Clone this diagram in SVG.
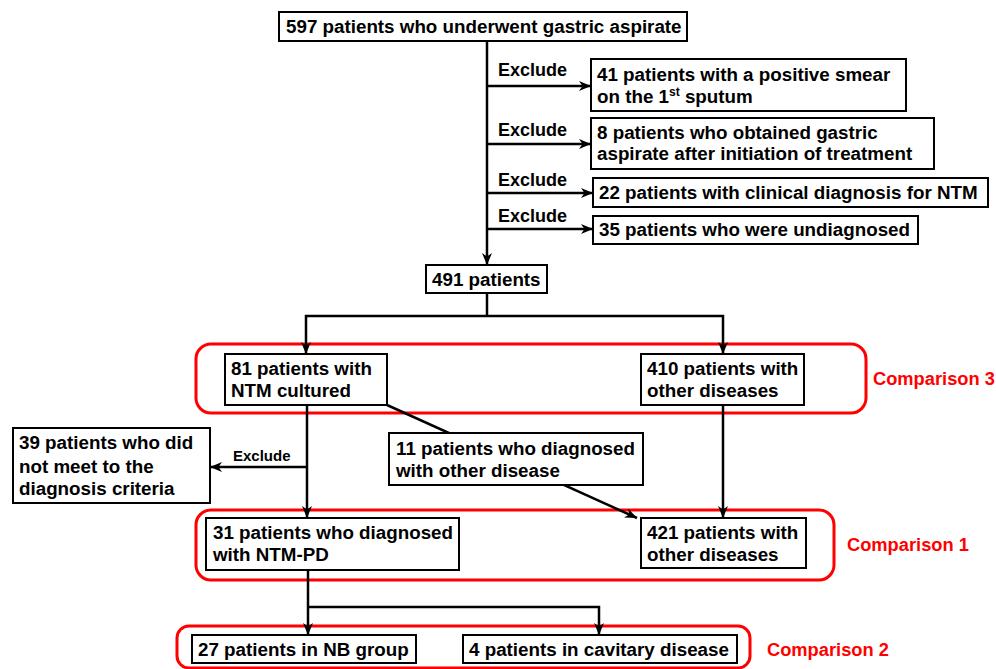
<svg xmlns="http://www.w3.org/2000/svg" width="996" height="669" viewBox="0 0 996 669">
<style>
.box{fill:#fff;stroke:#000;stroke-width:2}
.t{font-family:"Liberation Sans",Arial,sans-serif;font-weight:bold;font-size:18.8px;fill:#000}
.e{font-family:"Liberation Sans",Arial,sans-serif;font-weight:bold;font-size:18px;fill:#000}
.s{font-family:"Liberation Sans",Arial,sans-serif;font-weight:bold;font-size:15px;fill:#000}
.red{fill:none;stroke:#ff0000;stroke-width:3}
.rt{font-family:"Liberation Sans",Arial,sans-serif;font-weight:bold;font-size:18.3px;fill:#ff0000}
.ln{fill:none;stroke:#000;stroke-width:2.5}
.ar{marker-end:url(#ah)}
</style>
<defs>
<marker id="ah" viewBox="0 0 12 10" refX="12" refY="5" markerWidth="12" markerHeight="10" markerUnits="userSpaceOnUse" orient="auto">
<path d="M0,0 L12,5 L0,10 L3.5,5 z" fill="#000"/>
</marker>
</defs>
<rect width="996" height="669" fill="#fff"/>

<g id="groups">
<rect class="red" x="196" y="344" width="670" height="69" rx="15"/>
<rect class="red" x="196" y="510" width="638" height="70" rx="15"/>
<rect class="red" x="177" y="626" width="573" height="42" rx="12"/>
<text class="rt" x="873" y="385">Comparison 3</text>
<text class="rt" x="847" y="551">Comparison 1</text>
<text class="rt" x="767" y="656">Comparison 2</text>
</g>

<g id="connectors">
<line class="ln ar" x1="487" y1="41" x2="487" y2="265"/>
<line class="ln ar" x1="487" y1="86" x2="591" y2="86"/>
<line class="ln ar" x1="487" y1="144" x2="591" y2="144"/>
<line class="ln ar" x1="487" y1="193" x2="593" y2="193"/>
<line class="ln ar" x1="487" y1="229" x2="593" y2="229"/>
<text class="e" x="498" y="76">Exclude</text>
<text class="e" x="498" y="136">Exclude</text>
<text class="e" x="498" y="186">Exclude</text>
<text class="e" x="498" y="222">Exclude</text>
<polyline class="ln" points="487,293 487,316"/>
<polyline class="ln ar" points="487,316 306,316 306,354"/>
<polyline class="ln ar" points="487,316 723,316 723,354"/>
<line class="ln ar" x1="307" y1="405" x2="307" y2="518"/>
<line class="ln ar" x1="307" y1="467" x2="210" y2="467"/>
<text class="s" x="233" y="461">Exclude</text>
<line class="ln ar" x1="387" y1="405" x2="637" y2="518"/>
<line class="ln ar" x1="723" y1="405" x2="723" y2="518"/>
<line class="ln ar" x1="308" y1="570" x2="308" y2="635"/>
<polyline class="ln ar" points="308,607 599,607 599,635"/>
</g>

<g id="n597"><rect class="box" x="279" y="12" width="408" height="29"/><text class="t" x="286" y="33">597 patients who underwent gastric aspirate</text></g>
<g id="n41"><rect class="box" x="591" y="59" width="315" height="52"/><text class="t" x="597" y="81">41 patients with a positive smear</text><text class="t" x="597" y="103">on the 1<tspan font-size="12" dy="-7">st</tspan><tspan dy="7"> sputum</tspan></text></g>
<g id="n8"><rect class="box" x="591" y="118" width="343" height="51"/><text class="t" x="597" y="139">8 patients who obtained gastric</text><text class="t" x="597" y="160">aspirate after initiation of treatment</text></g>
<g id="n22"><rect class="box" x="593" y="178" width="395" height="29"/><text class="t" x="599" y="199">22 patients<tspan dx="5">with clinical diagnosis for NTM</tspan></text></g>
<g id="n35"><rect class="box" x="593" y="216" width="325" height="28"/><text class="t" x="599" y="236">35 patients who were undiagnosed</text></g>
<g id="n491"><rect class="box" x="426" y="265" width="121" height="28"/><text class="t" x="432" y="286">491 patients</text></g>
<g id="n81"><rect class="box" x="225" y="354" width="162" height="51"/><text class="t" x="231" y="375">81 patients with</text><text class="t" x="231" y="397">NTM cultured</text></g>
<g id="n410"><rect class="box" x="641" y="354" width="163" height="51"/><text class="t" x="647" y="375">410 patients with</text><text class="t" x="647" y="397">other diseases</text></g>
<g id="n39"><rect class="box" x="13" y="428" width="197" height="75"/><text class="t" x="19" y="449">39 patients who did</text><text class="t" x="19" y="473">not meet to the</text><text class="t" x="19" y="495">diagnosis criteria</text></g>
<g id="n11"><rect class="box" x="389" y="433" width="254" height="52"/><text class="t" x="396" y="455">11 patients who diagnosed</text><text class="t" x="396" y="477">with other disease</text></g>
<g id="n31"><rect class="box" x="206" y="518" width="253" height="52"/><text class="t" x="213" y="539">31 patients who diagnosed</text><text class="t" x="213" y="561">with NTM-PD</text></g>
<g id="n421"><rect class="box" x="641" y="518" width="165" height="50"/><text class="t" x="647" y="539">421 patients with</text><text class="t" x="647" y="561">other diseases</text></g>
<g id="n27"><rect class="box" x="192" y="635" width="224" height="28"/><text class="t" x="198" y="656">27 patients in NB group</text></g>
<g id="n4"><rect class="box" x="463" y="635" width="274" height="28"/><text class="t" x="469" y="656">4 patients in cavitary disease</text></g>
</svg>
